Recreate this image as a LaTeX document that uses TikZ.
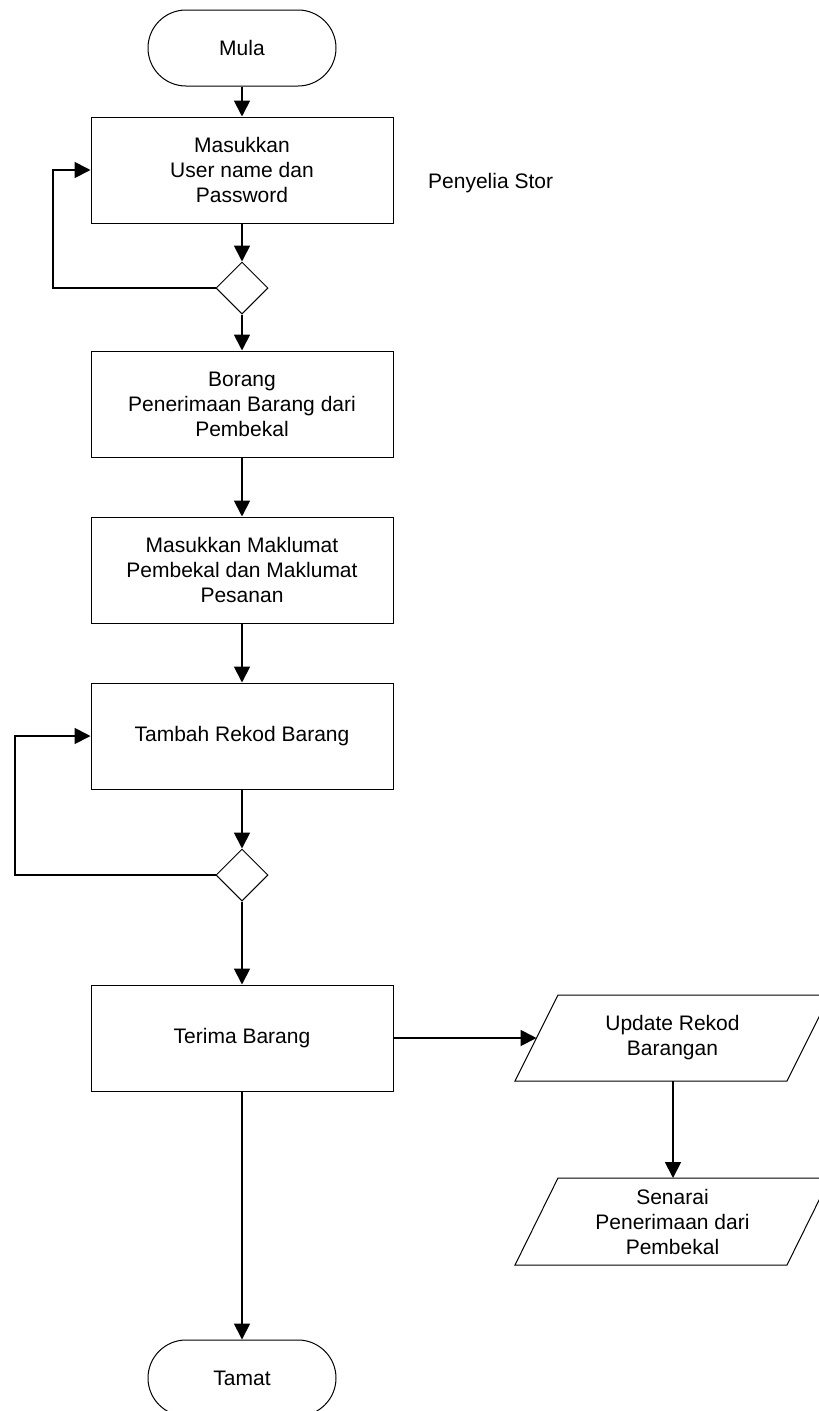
\documentclass[tikz,border=0pt]{standalone}
\usepackage{fontspec}
\setmainfont{Liberation Sans}
\usetikzlibrary{arrows.meta,shapes.geometric}
\begin{document}
\begin{tikzpicture}[x=1pt,y=-1pt,
  every node/.style={font=\fontsize{21}{25}\selectfont, align=center, inner sep=0pt},
  term/.style={draw, line width=1pt, rounded corners=38pt, minimum width=188pt, minimum height=76pt},
  procbox/.style={draw, line width=1pt, minimum width=302pt, minimum height=106pt},
  decision/.style={draw, line width=1pt, diamond, aspect=1, minimum width=52pt, minimum height=52pt},
  conn/.style={line width=1.8pt, -{Triangle[length=16pt,width=16pt]}},
  plainconn/.style={line width=1.8pt},
  para/.style={draw, line width=1pt}
]
\useasboundingbox (0,0) rectangle (819,1411);

\node[term] (mula) at (242,48) {Mula};
\node[procbox] (b1) at (242,170) {Masukkan\\User name dan\\Password};
\node[decision] (d1) at (242,288) {};
\node[procbox] (b2) at (242,404) {Borang\\Penerimaan Barang dari\\Pembekal};
\node[procbox] (b3) at (242,570) {Masukkan Maklumat\\Pembekal dan Maklumat\\Pesanan};
\node[procbox] (b4) at (242,736) {Tambah Rekod Barang};
\node[decision] (d2) at (242,875) {};
\node[procbox] (b5) at (242,1038) {Terima Barang};
\node[term] (tamat) at (242,1378) {Tamat};

\node[anchor=west] (role) at (428,183) {Penyelia Stor};

% parallelograms
\draw[para] (515,1081) -- (787,1081) -- (830,995) -- (558,995) -- cycle;
\node (p1) at (672.5,1038) {Update Rekod\\Barangan};
\coordinate (p1w) at (536.5,1038);
\coordinate (p1s) at (673,1081);
\draw[para] (515,1265) -- (787,1265) -- (830,1178) -- (558,1178) -- cycle;
\node (p2) at (672.5,1222) {Senarai\\Penerimaan dari\\Pembekal};
\coordinate (p2n) at (673,1178);

% loop corners
\coordinate (l1) at (53,288);
\coordinate (l2) at (15,875);

\draw[conn] (mula.south) -- (b1.north);
\draw[conn] (b1.south) -- (d1.north);
\draw[conn] (d1.west) -- (l1) |- (b1.west);
\draw[conn] (d1.south) -- (b2.north);
\draw[conn] (b2.south) -- (b3.north);
\draw[conn] (b3.south) -- (b4.north);
\draw[conn] (b4.south) -- (d2.north);
\draw[conn] (d2.west) -- (l2) |- (b4.west);
\draw[conn] (d2.south) -- (b5.north);
\draw[conn] (b5.east) -- (p1w);
\draw[conn] (p1s) -- (p2n);
\draw[conn] (b5.south) -- (tamat.north);
\end{tikzpicture}
\end{document}
